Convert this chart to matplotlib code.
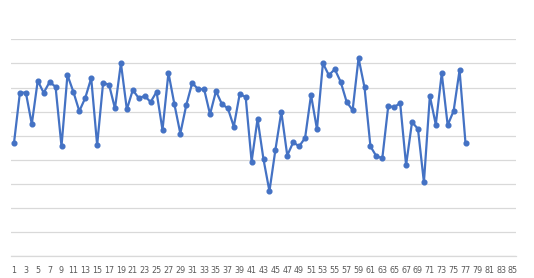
import matplotlib
matplotlib.use("Agg")
import matplotlib.pyplot as plt

categories = list(range(1, 86))
values = [4.69, 6.79, 6.79, 5.48, 7.28, 6.78, 7.23, 7.03, 4.56, 7.52,
          6.82, 6.02, 6.57, 7.39, 4.61, 7.19, 7.12, 6.13, 8.01, 6.09,
          6.90, 6.56, 6.65, 6.40, 6.82, 5.24, 7.61, 6.31, 5.09, 6.27,
          7.19, 6.93, 6.94, 5.89, 6.85, 6.31, 6.14, 5.38, 6.74, 6.60,
          3.93, 5.70, 4.02, 2.70, 4.41, 5.99, 4.18, 4.73, 4.56, 4.91,
          6.69, 5.27, 8.01, 7.51, 7.76, 7.23, 6.40, 6.06, 8.22, 7.01,
          4.56, 4.15, 4.07, 6.24, 6.18, 6.36, 3.78, 5.57, 5.28, 3.07,
          6.65, 5.46, 7.59, 5.44, 6.03, 7.72, 4.69]
tick_labels = [str(c) for c in categories if c % 2 == 1]

fig = plt.figure(figsize=(5.34, 2.78), dpi=100)
ax = fig.add_axes([11/534, (278-256.3)/278, 505/534, (256.3-39.3)/278])

xs = categories[:len(values)]
ax.plot(xs, values, color="#4472C4", linewidth=1.6, marker="o", markersize=3.4,
        markerfacecolor="#4472C4", markeredgecolor="#4472C4", zorder=3)

ax.set_xlim(0.5, 85.5)
ax.set_ylim(0, 9)
ax.set_yticks(range(0, 10))
ax.set_yticklabels([])
ax.tick_params(axis="y", length=0)
ax.grid(axis="y", color="#D9D9D9", linewidth=0.9)
ax.set_axisbelow(True)

ax.set_xticks([c for c in categories if c % 2 == 1])
ax.set_xticklabels(tick_labels, fontsize=5.8, color="#595959", family="DejaVu Sans")
ax.tick_params(axis="x", length=0, pad=7)

for s in ["top", "left", "right"]:
    ax.spines[s].set_visible(False)
ax.spines["bottom"].set_color("#D9D9D9")
ax.spines["bottom"].set_linewidth(0.9)

fig.savefig("out.png", dpi=100)
